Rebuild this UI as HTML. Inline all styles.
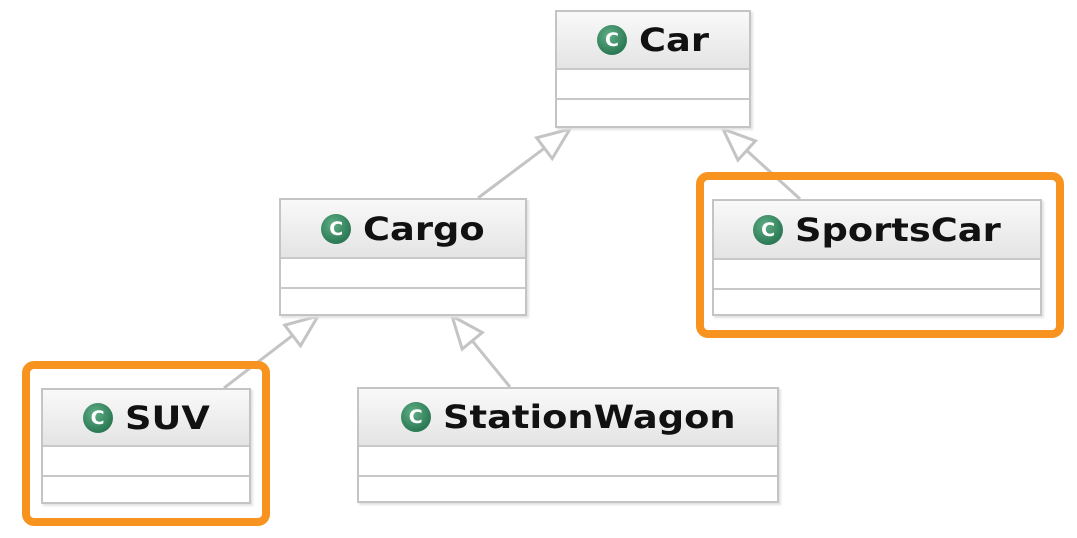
<!DOCTYPE html>
<html><head><meta charset="utf-8"><style>
body{margin:0;width:1077px;height:538px;background:#fff;overflow:hidden;position:relative;font-family:"DejaVu Sans",sans-serif}
.box{position:absolute;border:2px solid #c4c4c4;background:#fff;box-sizing:border-box;box-shadow:2px 2px 2px #e2e2e2}
.hd{background:linear-gradient(#f9f9f9,#e4e4e4);border-bottom:2px solid #c8c8c8;display:flex;align-items:center;justify-content:center;font-weight:bold;font-size:32px;color:#111}
.sec{border-bottom:2px solid #c8c8c8}
.ic{width:30px;height:30px;border-radius:50%;background:radial-gradient(circle at 40% 35%,#5fae86,#2c7a55 70%);color:#fff;font-size:19px;line-height:30px;text-align:center;margin-right:12px;font-weight:bold}
.t{display:inline-block;transform:scaleX(1.15);transform-origin:left center}
.or{position:absolute;border:8px solid #f7931e;border-radius:12px;box-sizing:border-box}
svg{position:absolute;left:0;top:0}
</style></head><body>
<svg width="1077" height="538" id="s"></svg>
<div class="box" style="left:555px;top:10px;width:196px;height:118px"><div class="hd" style="height:56px"><div class="ic">C</div><span class="t">Car</span></div><div class="sec" style="height:28px"></div></div>
<div class="box" style="left:279px;top:198px;width:248px;height:118px"><div class="hd" style="height:57px"><div class="ic">C</div><span class="t">Cargo</span></div><div class="sec" style="height:28px"></div></div>
<div class="box" style="left:712px;top:199px;width:330px;height:117px"><div class="hd" style="height:57px"><div class="ic">C</div><span class="t">SportsCar</span></div><div class="sec" style="height:28px"></div></div>
<div class="box" style="left:41px;top:388px;width:210px;height:116px"><div class="hd" style="height:55px"><div class="ic">C</div><span class="t">SUV</span></div><div class="sec" style="height:28px"></div></div>
<div class="box" style="left:357px;top:387px;width:422px;height:116px"><div class="hd" style="height:56px"><div class="ic">C</div><span class="t">StationWagon</span></div><div class="sec" style="height:28px"></div></div>
<div class="or" style="left:22px;top:361px;width:248px;height:165px"></div>
<div class="or" style="left:696px;top:172px;width:368px;height:166px"></div>
<script>
document.querySelectorAll('.t').forEach(function(e){e.style.marginRight=(e.offsetWidth*0.15)+'px';});
var s=document.getElementById('s'),h='';
[[478,198,570,129],[800,199,723,129],[224,388,318,316],[510,387,452,316]].forEach(function(a){
var dx=a[2]-a[0],dy=a[3]-a[1],L=Math.hypot(dx,dy),ux=dx/L,uy=dy/L,px=-uy,py=ux,len=32,w=13;
var bx=a[2]-ux*len,by=a[3]-uy*len;
h+='<line x1="'+a[0]+'" y1="'+a[1]+'" x2="'+bx+'" y2="'+by+'" stroke="#c4c4c4" stroke-width="3"/>';
h+='<polygon points="'+a[2]+','+a[3]+' '+(bx+px*w)+','+(by+py*w)+' '+(bx-px*w)+','+(by-py*w)+'" fill="#fff" stroke="#c4c4c4" stroke-width="3"/>';
});
s.innerHTML=h;
</script>
</body></html>
